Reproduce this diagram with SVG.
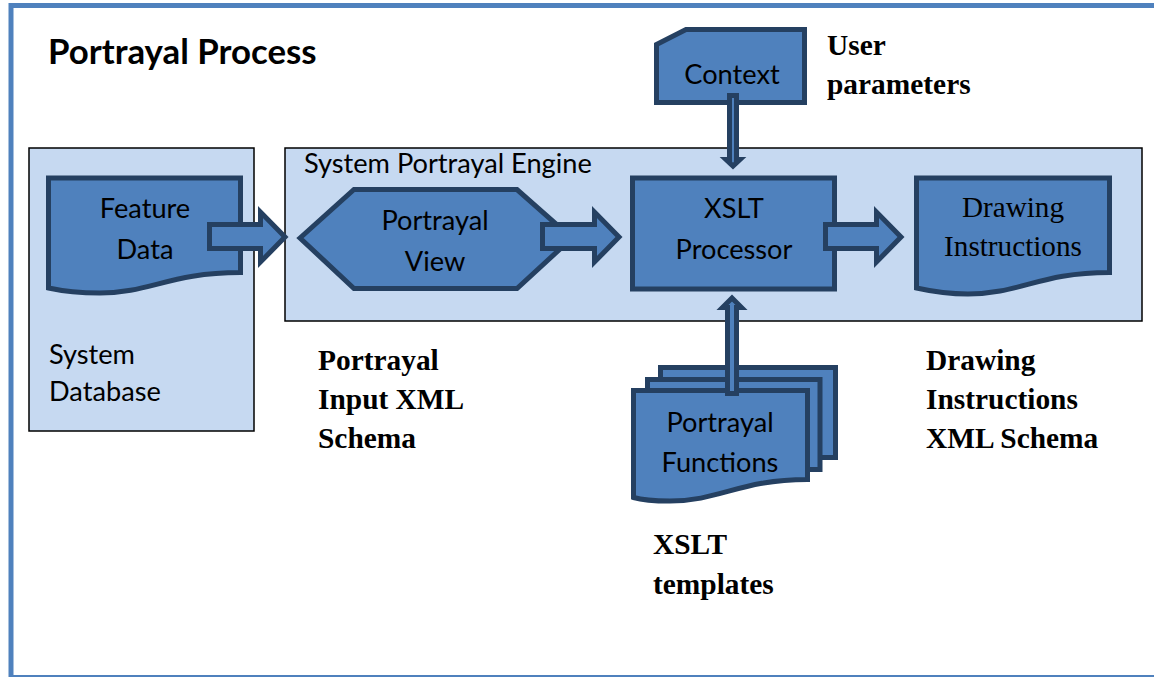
<svg xmlns="http://www.w3.org/2000/svg" width="1154" height="677" viewBox="0 0 1154 677">
<style>
.panel{fill:#c6d9f1;stroke:#000;stroke-width:1.5}
.shape{fill:#4f81bd;stroke:#254061;stroke-width:5}
.t{font-family:Lato,Carlito,"Open Sans",sans-serif;font-size:27.200px;fill:#000;text-anchor:middle}
.l{font-family:Lato,Carlito,"Open Sans",sans-serif;font-size:27.200px;fill:#000}
.s{font-family:"Liberation Serif","Times New Roman",serif;font-size:29.400px;font-weight:bold;fill:#000}
.d{font-family:"Liberation Serif","Times New Roman",serif;font-size:29.200px;fill:#000;text-anchor:middle}
</style>
<rect id="frame" x="11" y="5.500" width="1150" height="672" fill="#fff" stroke="#4f81bd" stroke-width="5"/>
<text id="title" x="48" y="63.500" font-family="Lato,Carlito,'Open Sans',sans-serif" font-size="34.800" font-weight="bold">Portrayal Process</text>
<g id="system-database"><rect class="panel" x="29" y="148" width="225" height="283"/><text class="l" x="49" y="364">System</text><text class="l" x="49" y="401">Database</text></g>
<g id="engine"><rect class="panel" x="285" y="148" width="857" height="173"/><text class="l" x="304" y="172.500">System Portrayal Engine</text></g>
<g id="feature-data"><path class="shape" d="M48.500,178H240.500V272.500C170,272.500 150,293 100,293C80,293 62,291 48.500,288Z"/><text class="t" x="145" y="218">Feature</text><text class="t" x="145" y="259">Data</text></g>
<g id="portrayal-view"><path class="shape" d="M300,238L354,189.500H517L572,238L517,288.500H354Z"/><text class="t" x="435" y="230">Portrayal</text><text class="t" x="435" y="271">View</text></g>
<g id="xslt-processor"><rect class="shape" x="632.500" y="178" width="202" height="111"/><text class="t" x="734" y="218">XSLT</text><text class="t" x="734" y="259">Processor</text></g>
<g id="drawing-instructions"><path class="shape" d="M916.500,178H1109.500V272.500C1040,272.500 1020,294 968,294C948,294 930,291 916.500,288Z"/><text class="d" x="1013" y="217">Drawing</text><text class="d" x="1013" y="256">Instructions</text></g>
<g id="context"><path class="shape" d="M656.500,44.500L686,29.500H804.500V102.500H656.500Z"/><text class="t" x="732" y="84">Context</text></g>
<g id="portrayal-functions"><path class="shape" d="M660.500,367.500H835.500V457.500H660.500Z"/><path class="shape" d="M647.500,379.500H820V469.500H647.500Z"/><path class="shape" d="M633.500,390.500H807.500V479.500C740,479.500 720,501 670,501C655,501 642,500 633.500,497.500Z"/><text class="t" x="720" y="432">Portrayal</text><text class="t" x="720" y="472">Functions</text></g>
<g id="connectors">
<path class="shape" d="M209.500,224.500H260.500V212L285,237L260.500,262V248.500H209.500Z"/>
<path class="shape" d="M542.500,224.500H594.500V212L619,237L594.500,262V248.500H542.500Z"/>
<path class="shape" d="M825.500,224.500H876.500V212L901,237L876.500,262V248.500H825.500Z"/>
<path class="shape" d="M729.500,95.500H736.500V159.500H740L733,166L726,159.500H729.500Z"/>
<path class="shape" d="M727.500,393.500V307.500H722.500L732,298L741.500,307.500H736.500V393.500Z"/>
</g>
<g id="labels">
<text class="s" x="827" y="55">User</text><text class="s" x="827" y="94">parameters</text>
<text class="s" x="318" y="370">Portrayal</text><text class="s" x="318" y="409">Input XML</text><text class="s" x="318" y="448">Schema</text>
<text class="s" x="926" y="370">Drawing</text><text class="s" x="926" y="409">Instructions</text><text class="s" x="926" y="448">XML Schema</text>
<text class="s" x="653" y="554">XSLT</text><text class="s" x="653" y="593.500">templates</text>
</g>
</svg>
